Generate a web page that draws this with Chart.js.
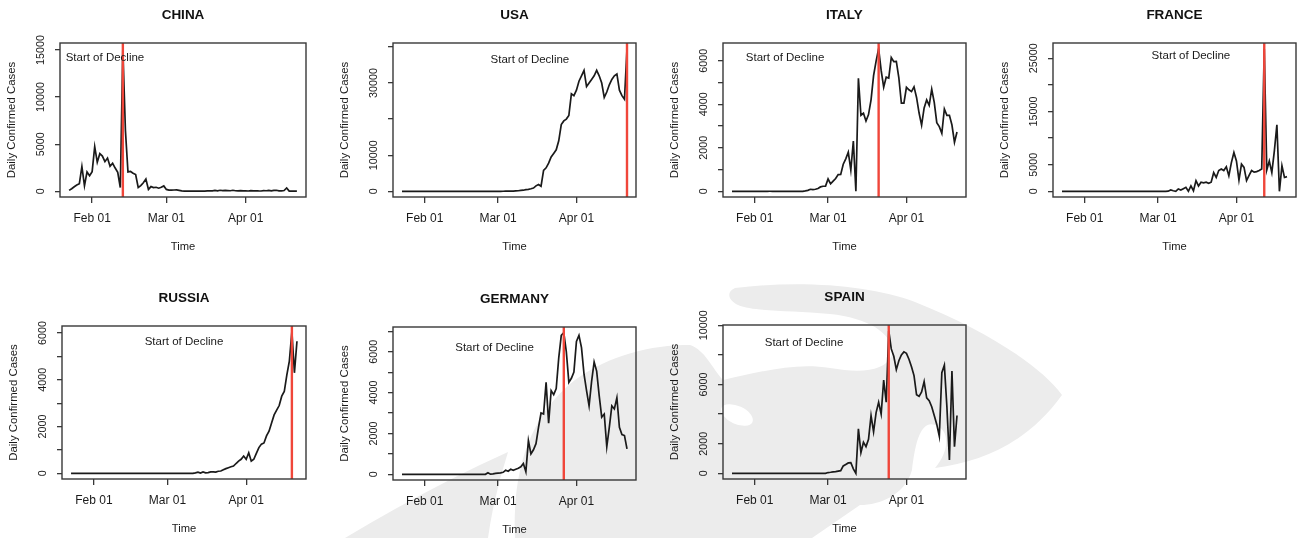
<!DOCTYPE html>
<html>
<head>
<meta charset="utf-8">
<script src="https://cdn.jsdelivr.net/npm/chart.js@4.4.1/dist/chart.umd.min.js"></script>
<style>
html,body{margin:0;padding:0;background:#fff;overflow:hidden;}
body{width:1297px;height:538px;position:relative;}
#wm{position:absolute;left:0;top:0;}
canvas{position:absolute;}
</style>
</head>
<body>
<svg id="wm" width="1297" height="538">
  <path fill="#ececec" d="M345 538 Q430 487 508 452 Q494 495 488 538 Z"/>
  <path fill="#ececec" d="M515 538 C512 470 530 415 575 380 C610 355 650 345 690 345 C705 350 712 368 723 380 C760 372 795 362 830 368 C860 373 885 372 892 355 C895 335 870 318 830 314 C790 310 755 312 738 305 C728 300 726 292 735 288 C800 280 870 285 915 302 C985 330 1040 365 1062 395 C1030 440 985 462 935 468 C950 450 950 430 935 425 C920 420 915 445 912 470 C905 495 880 505 860 505 L812 538 Z"/>
  <ellipse fill="#fff" cx="737" cy="415" rx="17" ry="9" transform="rotate(25 737 415)"/>
</svg>
<script>
// days counted from Jan 22 2020, first value is Jan 23 (day 1), last Apr 21 (day 90)
const firstDay = 1;
const xTickDays = [10, 39, 70];
const xTickLabels = ["Feb 01", "Mar 01", "Apr 01"];

const countries = ["CHINA", "USA", "ITALY", "FRANCE", "RUSSIA", "GERMANY", "SPAIN"];

const china = [
  95, 277, 486, 669, 802, 2632, 578, 2054, 1661, 2089,
  4739, 3086, 3991, 3733, 3147, 3523, 2652, 2973, 2467, 2015,
  400, 15133, 6463, 2055, 2100, 1921, 1777, 408, 600, 900,
  1300, 200, 500, 400, 430, 330, 430, 570, 200, 125,
  120, 140, 145, 100, 45, 20, 17, 30, 25, 11,
  25, 20, 30, 25, 40, 60, 40, 100, 50, 110,
  80, 100, 80, 60, 110, 60, 40, 80, 40, 40,
  30, 80, 50, 60, 40, 30, 80, 60, 90, 40,
  100, 110, 50, 50, 80, 350, 20, 10, 15, 10
];
const usa = [
  0, 0, 0, 0, 0, 0, 0, 0, 0, 0,
  0, 0, 0, 0, 0, 0, 0, 0, 0, 0,
  0, 0, 0, 0, 0, 0, 0, 0, 0, 0,
  0, 0, 0, 0, 0, 0, 0, 0, 0, 0,
  10, 20, 30, 40, 60, 100, 150, 250, 300, 450,
  550, 700, 900, 1500, 1900, 1400, 5800, 6500, 7800, 9500,
  10500, 11500, 14000, 18500, 19500, 20000, 21000, 27000, 26500, 28000,
  30500, 32000, 33500, 29000, 30000, 31000, 32000, 33500, 32000, 30000,
  26000, 27500, 29500, 31000, 32000, 32500, 28000, 26500, 25500, 39500
];
const italy = [
  0, 0, 0, 0, 0, 0, 0, 0, 2, 0,
  0, 0, 0, 0, 0, 1, 0, 0, 0, 0,
  0, 0, 0, 0, 0, 0, 0, 0, 0, 17,
  42, 93, 74, 93, 131, 202, 233, 240, 566, 342,
  466, 587, 769, 778, 1247, 1492, 1797, 977, 2313, 0,
  5198, 3497, 3590, 3233, 3526, 4207, 5322, 5986, 6557, 5560,
  4789, 5249, 5210, 6153, 5959, 5974, 5217, 4050, 4053, 4782,
  4668, 4585, 4805, 4316, 3599, 3039, 3836, 4204, 3951, 4694,
  4092, 3153, 2972, 2667, 3786, 3493, 3491, 3047, 2256, 2729
];
const france = [
  0, 0, 0, 0, 0, 0, 0, 0, 0, 0,
  0, 0, 0, 0, 0, 0, 0, 0, 0, 0,
  0, 0, 0, 0, 0, 0, 0, 0, 0, 0,
  0, 0, 0, 0, 0, 0, 0, 0, 0, 0,
  0, 0, 20, 250, 100, 0, 450, 250, 500, 750,
  0, 1000, 100, 2000, 1000, 1700, 1600, 1700, 1500, 1700,
  3500, 2600, 3900, 4200, 3900, 4600, 2900, 5400, 7300, 5700,
  2100, 5100, 4500, 2000, 3000, 3900, 3600, 3700, 3900, 4200,
  26800, 4000, 5700, 3500, 7600, 12500, 0, 4800, 2600, 2750
];
const russia = [
  0, 0, 0, 0, 0, 0, 0, 0, 0, 0,
  0, 0, 0, 0, 0, 0, 0, 0, 0, 0,
  0, 0, 0, 0, 0, 0, 0, 0, 0, 0,
  0, 0, 0, 0, 0, 0, 0, 0, 0, 0,
  0, 0, 0, 0, 0, 0, 0, 0, 0, 20,
  50, 10, 60, 20, 30, 60, 60, 50, 90, 100,
  150, 200, 240, 280, 310, 420, 520, 600, 740, 600,
  880, 520, 600, 850, 1100, 1250, 1300, 1600, 1800, 2150,
  2500, 2700, 2900, 3300, 3500, 4200, 4800, 6060, 4300, 5650
];
const germany = [
  0, 0, 0, 0, 0, 0, 0, 0, 0, 0,
  0, 0, 0, 0, 0, 0, 0, 0, 0, 0,
  0, 0, 0, 0, 0, 0, 0, 0, 0, 0,
  0, 0, 0, 0, 80, 10, 20, 50, 60, 70,
  100, 200, 150, 250, 200, 250, 300, 370, 530, 130,
  1650, 1000, 1200, 1500, 2300, 3000, 2950, 4500, 2500, 4100,
  3900, 4200, 5700, 6800, 6933, 6000, 4500, 4700, 5000, 6500,
  6800, 6200, 4900, 4100, 3350, 4550, 5500, 5050, 3850, 2800,
  2950, 1350, 2300, 3350, 3200, 3750, 2300, 1950, 1900, 1250
];
const spain = [
  0, 0, 0, 0, 0, 0, 0, 0, 0, 0,
  0, 0, 0, 0, 0, 0, 0, 0, 0, 0,
  0, 0, 0, 0, 0, 0, 0, 0, 0, 0,
  0, 0, 0, 0, 0, 0, 0, 0, 50, 70,
  100, 110, 150, 180, 500, 600, 700, 720, 300, 0,
  3000, 1400, 2100, 1800, 2300, 3900, 2800, 4100, 4800, 4000,
  6300, 4800, 9630, 8400, 7900, 7000, 7600, 8000, 8200, 8100,
  7700, 7200, 6600, 5300, 5200, 5500, 6200, 5100, 4900, 4500,
  3900, 3300, 2500, 6800, 7300, 4500, 900, 6900, 1800, 3900
];

// day of the red "start of decline" line
const peakDays = [22, 90, 59, 81, 88, 65, 63];
// where the "Start of Decline" note sits (day, cases)
const noteX = [15.0, 51.6, 22.0, 52.0, 45.5, 37.6, 29.5];
const noteY = [14115, 36290, 6115, 25370, 5619, 6183, 8800];

const chinaYTicks = [0, 5000, 10000, 15000];
const chinaYLabels = ["0", "5000", "10000", "15000"];
const usaYTicks = [0, 10000, 20000, 30000, 40000];
const usaYLabels = ["0", "10000", "", "30000", ""];
const italyYTicks = [0, 1000, 2000, 3000, 4000, 5000, 6000];
const italyYLabels = ["0", "", "2000", "", "4000", "", "6000"];
const franceYTicks = [0, 5000, 10000, 15000, 20000, 25000];
const franceYLabels = ["0", "5000", "", "15000", "", "25000"];
const russiaYTicks = [0, 1000, 2000, 3000, 4000, 5000, 6000];
const russiaYLabels = ["0", "", "2000", "", "4000", "", "6000"];
const germanyYTicks = [0, 1000, 2000, 3000, 4000, 5000, 6000, 7000];
const germanyYLabels = ["0", "", "2000", "", "4000", "", "6000", ""];
const spainYTicks = [0, 2000, 4000, 6000, 8000, 10000];
const spainYLabels = ["0", "2000", "", "6000", "", "10000"];

const seriesList = [china, usa, italy, france, russia, germany, spain];
const yTickList = [chinaYTicks, usaYTicks, italyYTicks, franceYTicks, russiaYTicks, germanyYTicks, spainYTicks];
const yLabelList = [chinaYLabels, usaYLabels, italyYLabels, franceYLabels, russiaYLabels, germanyYLabels, spainYLabels];

// plot boxes on the page [left, top, right, bottom]
const panels = [
  [60, 43, 306, 197], [393, 43, 636, 197], [723, 43, 966, 197], [1053, 43, 1296, 197],
  [62, 326, 306, 479], [393, 327, 636, 480], [723, 325, 966, 479]
];

const FONT = "'Liberation Sans', Arial, Helvetica, sans-serif";
const LEFT_W = 62, TOP_H = 43, BOTTOM_H = 62, RIGHT_W = 6;

function makeExtras(idx){
  return {
    id: "panelExtras" + idx,
    afterDatasetsDraw(chart){
      const ctx = chart.ctx;
      const a = chart.chartArea;
      const xs = chart.scales.x, ys = chart.scales.y;
      ctx.save();
      // start of decline line
      const px = xs.getPixelForValue(peakDays[idx]);
      ctx.strokeStyle = "#f0463a";
      ctx.lineWidth = 2.4;
      ctx.beginPath();
      ctx.moveTo(px, a.top);
      ctx.lineTo(px, a.bottom);
      ctx.stroke();
      // box
      ctx.strokeStyle = "#383838";
      ctx.lineWidth = 1.4;
      ctx.strokeRect(a.left, a.top, a.right - a.left, a.bottom - a.top);
      // note
      ctx.fillStyle = "#1a1a1a";
      ctx.font = "11.5px " + FONT;
      ctx.textAlign = "center";
      ctx.textBaseline = "middle";
      ctx.fillText("Start of Decline", xs.getPixelForValue(noteX[idx]), ys.getPixelForValue(noteY[idx]));
      // y tick labels, parallel to the axis
      ctx.font = "10.8px " + FONT;
      const ticks = yTickList[idx], labels = yLabelList[idx];
      ticks.forEach((v, i) => {
        if(!labels[i]) return;
        ctx.save();
        ctx.translate(a.left - 19, ys.getPixelForValue(v));
        ctx.rotate(-Math.PI / 2);
        ctx.fillText(labels[i], 0, 0);
        ctx.restore();
      });
      ctx.restore();
    }
  };
}

countries.forEach((name, idx) => {
  const [L, T, R, B] = panels[idx];
  const cv = document.createElement("canvas");
  const w = R - L + LEFT_W + RIGHT_W;
  const h = B - T + TOP_H + BOTTOM_H;
  cv.width = w; cv.height = h;
  cv.style.left = (L - LEFT_W) + "px";
  cv.style.top = (T - TOP_H) + "px";
  cv.style.width = w + "px"; cv.style.height = h + "px";
  document.body.appendChild(cv);

  const values = seriesList[idx];
  const top = Math.max(...values);
  const lastDay = firstDay + values.length - 1;
  const span = lastDay - firstDay;
  const ticks = yTickList[idx];

  new Chart(cv, {
    type: "line",
    data: {
      datasets: [{
        data: values.map((v, i) => ({x: firstDay + i, y: v})),
        borderColor: "#1a1a1a",
        borderWidth: 1.7,
        pointRadius: 0,
        tension: 0,
        fill: false
      }]
    },
    options: {
      responsive: false,
      animation: false,
      devicePixelRatio: 1,
      layout: {padding: {left: 0, right: RIGHT_W, top: 0, bottom: 0}},
      plugins: {
        legend: {display: false},
        tooltip: {enabled: false},
        title: {
          display: true, text: name, fullSize: false, color: "#111",
          font: {family: FONT, size: 13.5, weight: "bold"},
          padding: {top: 6.8, bottom: 20}
        }
      },
      scales: {
        x: {
          type: "linear",
          min: firstDay - 0.04 * span,
          max: lastDay + 0.04 * span,
          afterBuildTicks: (s) => { s.ticks = xTickDays.map(v => ({value: v})); },
          afterFit: (s) => { s.height = BOTTOM_H; },
          ticks: {
            autoSkip: false, maxRotation: 0, minRotation: 0, padding: 8,
            color: "#1a1a1a", font: {family: FONT, size: 12},
            callback: (v) => { const k = xTickDays.indexOf(v); return k >= 0 ? xTickLabels[k] : ""; }
          },
          grid: {drawOnChartArea: false, drawTicks: true, tickLength: 6, color: "#383838", lineWidth: 1.3},
          border: {display: false},
          title: {display: true, text: "Time", color: "#1a1a1a", font: {family: FONT, size: 11.2}, padding: {top: 0, bottom: 5.5}}
        },
        y: {
          type: "linear",
          min: -0.04 * top,
          max: 1.04 * top,
          afterBuildTicks: (s) => { s.ticks = ticks.map(v => ({value: v})); },
          afterFit: (s) => { s.width = LEFT_W; },
          ticks: {display: false},
          grid: {drawOnChartArea: false, drawTicks: true, tickLength: 5, color: "#383838", lineWidth: 1.3},
          border: {display: false},
          title: {display: true, text: "Daily Confirmed Cases", color: "#1a1a1a", font: {family: FONT, size: 11.4}, padding: {top: 7, bottom: 0}}
        }
      }
    },
    plugins: [makeExtras(idx)]
  });
});
</script>
</body>
</html>
